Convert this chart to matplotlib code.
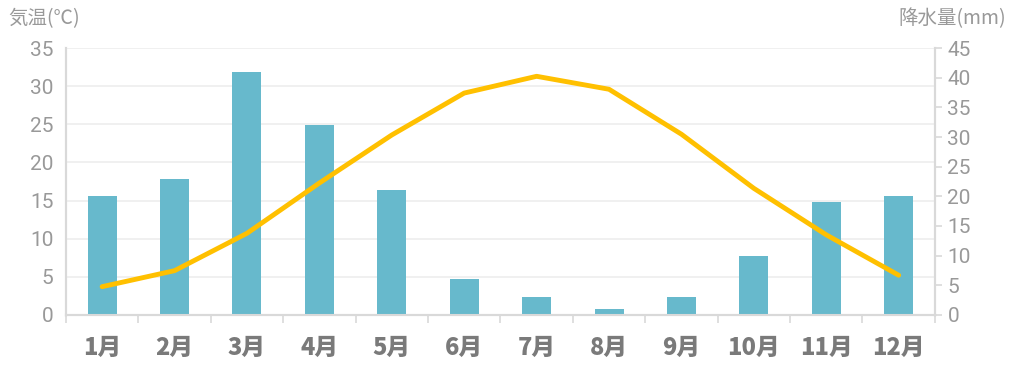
import numpy as np
import matplotlib.pyplot as plt

plt.rcParams['font.family'] = ['Noto Sans CJK JP', 'DejaVu Sans']

months = ["1月", "2月", "3月", "4月", "5月", "6月", "7月", "8月", "9月", "10月", "11月", "12月"]
precip = [20, 23, 41, 32, 21, 6, 3, 1, 3, 10, 19, 20]
temp = [3.7, 5.8, 10.7, 17.3, 23.6, 29.1, 31.3, 29.6, 23.7, 16.6, 10.5, 5.2]

x = np.arange(len(months))

fig = plt.figure(figsize=(10.14, 3.70), dpi=100)
ax = fig.add_axes([0.065, 0.149, 0.857, 0.721])
ax2 = ax.twinx()

# grid on the temperature axis (bottom), bars on the precipitation axis above it,
# line drawn in ax2 but using the temperature scale so it sits on top of the bars
ax.grid(axis="y", color="#EEEEEE", lw=1.2)
ax.set_axisbelow(True)
ax2.bar(x, precip, width=0.4, color="#67B9CC", zorder=2)
ax2.plot(x, temp, color="#FFC000", lw=3.5, solid_capstyle="round", zorder=3,
         transform=ax.transData)

ax.set_xlim(-0.5, 11.5)
ax.set_ylim(0, 35)
ax2.set_ylim(0, 45)
ax.set_yticks(range(0, 36, 5))
ax2.set_yticks(range(0, 46, 5))
ax2.grid(False)

ax.set_xticks(x)
ax.set_xticklabels(months, fontsize=17, fontweight="heavy", color="#7A7A7A")
ax.set_xticks(np.arange(-0.5, 12, 1), minor=True)
ax.tick_params(axis="x", which="major", length=0, pad=15)
ax.tick_params(axis="x", which="minor", length=6, color="#D9D9D9", width=1.2)
ax.tick_params(axis="y", length=0, labelsize=15, labelcolor="#999999", pad=9)
ax2.tick_params(axis="y", length=5, color="#D9D9D9", width=1.2, labelsize=15, labelcolor="#999999", pad=4)
for lab in ax.get_yticklabels() + ax2.get_yticklabels():
    lab.set_family(['Roboto', 'DejaVu Sans'])

for a in (ax, ax2):
    for s in a.spines.values():
        s.set_color("#D9D9D9")
        s.set_linewidth(1.5)
    a.spines["top"].set_visible(False)

fig.text(0.008, 0.95, "気温(℃)", fontsize=14, color="#999999", va="center", ha="left")
fig.text(0.992, 0.95, "降水量(mm)", fontsize=14, color="#999999", va="center", ha="right")

fig.savefig("out.png", dpi=100)
